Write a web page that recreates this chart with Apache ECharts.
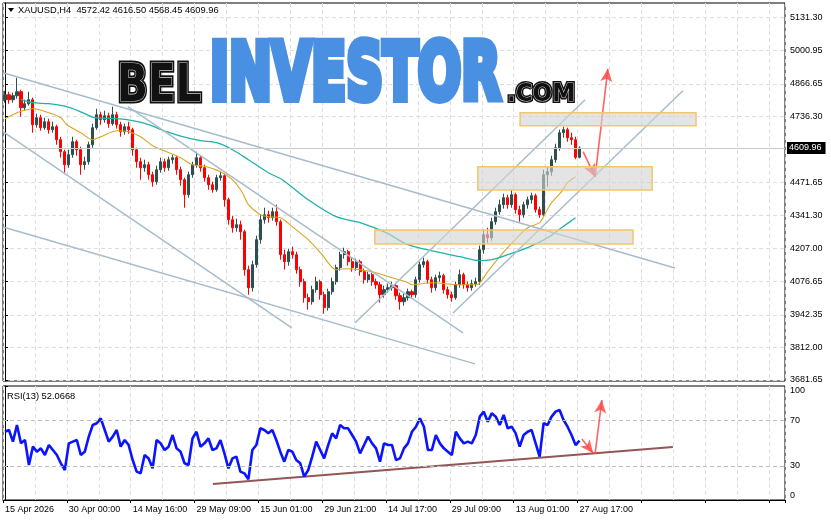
<!DOCTYPE html>
<html><head><meta charset="utf-8">
<script src="https://cdn.jsdelivr.net/npm/echarts@6/dist/echarts.min.js"></script>
<style>html,body{margin:0;padding:0;background:#fff}#c{width:831px;height:521px}</style>
</head><body><div id="c"></div>
<script>
const symbolName = 'XAUUSD,H4';
const lastBar = [4572.42, 4616.50, 4568.45, 4609.96]; // O H L C
const rsiName = 'RSI(13)';
const rsiLast = 52.0668;
const priceTicks = [5131.30, 5000.95, 4866.65, 4736.30, 4471.65, 4341.30, 4207.00, 4076.65, 3942.35, 3812.00, 3681.65];
const rsiTicks = [0, 30, 70, 100];
const rsiLevels = [30, 70];
const timeLabels = ['15 Apr 2026', '30 Apr 00:00', '14 May 16:00', '29 May 09:00', '15 Jun 01:00', '29 Jun 21:00', '14 Jul 17:00', '29 Jul 09:00', '13 Aug 01:00', '27 Aug 17:00'];
const labelEvery = 16;
const totalSlots = 196;

// candles: [open, close, low, high]
const candles = [
[4803,4823,4791,4839],[4823,4803,4787,4835],[4803,4819,4791,4831],[4819,4835,4807,4891],[4835,4771,4735,4843],
[4771,4787,4759,4803],[4787,4803,4779,4835],[4803,4703,4671,4811],[4703,4731,4691,4747],[4731,4691,4679,4743],
[4691,4715,4683,4731],[4715,4683,4667,4727],[4683,4695,4671,4715],[4695,4643,4623,4703],[4643,4595,4571,4655],
[4595,4543,4511,4603],[4543,4583,4531,4603],[4583,4635,4571,4655],[4635,4603,4579,4643],[4603,4543,4503,4615],
[4543,4555,4523,4575],[4555,4623,4543,4635],[4623,4691,4611,4707],[4691,4743,4683,4767],[4743,4723,4703,4755],
[4723,4739,4711,4759],[4739,4707,4691,4751],[4707,4743,4699,4775],[4743,4703,4687,4755],[4703,4675,4655,4715],
[4675,4695,4663,4707],[4695,4683,4667,4715],[4683,4603,4579,4691],[4603,4555,4531,4611],[4555,4531,4483,4571],
[4531,4543,4515,4563],[4543,4503,4483,4555],[4503,4475,4455,4515],[4475,4523,4463,4539],[4523,4555,4511,4571],
[4555,4531,4515,4567],[4531,4563,4519,4575],[4563,4571,4547,4583],[4571,4523,4503,4579],[4523,4483,4459,4535],
[4483,4423,4371,4491],[4423,4503,4411,4515],[4503,4543,4491,4555],[4543,4571,4531,4595],[4571,4531,4515,4579],
[4531,4491,4475,4543],[4491,4463,4443,4503],[4463,4443,4431,4475],[4443,4491,4435,4503],[4491,4499,4479,4515],
[4499,4403,4375,4507],[4403,4323,4303,4411],[4323,4291,4271,4339],[4291,4303,4275,4327],[4303,4275,4243,4319],
[4275,4123,4099,4283],[4123,4051,4023,4139],[4051,4143,4035,4159],[4143,4243,4131,4259],[4243,4323,4227,4343],
[4323,4343,4307,4371],[4343,4331,4311,4359],[4331,4355,4319,4371],[4355,4315,4299,4383],[4315,4183,4163,4323],
[4183,4155,4123,4203],[4155,4195,4139,4207],[4195,4183,4167,4215],[4183,4123,4107,4195],[4123,4075,4055,4135],
[4075,4011,3991,4087],[4011,3995,3963,4027],[3995,4043,3983,4059],[4043,4075,4031,4095],[4075,4023,4003,4083],
[4023,3971,3947,4035],[3971,4035,3959,4047],[4035,4075,4023,4091],[4075,4131,4063,4143],[4131,4183,4119,4195],
[4183,4195,4167,4211],[4195,4155,4139,4203],[4155,4131,4115,4171],[4131,4155,4119,4167],[4155,4115,4099,4163],
[4115,4083,4067,4127],[4083,4103,4071,4115],[4103,4075,4059,4111],[4075,4063,4047,4087],[4063,4023,3991,4075],
[4023,4043,4011,4059],[4043,4051,4031,4067],[4051,4059,4039,4075],[4059,4019,4003,4067],[4019,3995,3963,4031],
[3995,4011,3979,4027],[4011,4035,3999,4047],[4035,4023,4007,4043],[4023,4083,4011,4095],[4083,4143,4071,4155],
[4143,4155,4131,4171],[4155,4083,4067,4163],[4083,4051,4031,4095],[4051,4091,4039,4103],[4091,4099,4075,4115],
[4099,4043,4027,4107],[4043,4023,4007,4055],[4023,4011,3995,4035],[4011,4063,4003,4075],[4063,4103,4051,4123],
[4103,4063,4047,4111],[4063,4051,4035,4075],[4051,4067,4039,4083],[4067,4075,4055,4091],[4075,4203,4063,4219],
[4203,4263,4187,4283],[4263,4251,4231,4291],[4251,4315,4239,4331],[4315,4355,4303,4371],[4355,4383,4343,4403],
[4383,4411,4367,4427],[4411,4383,4367,4423],[4383,4423,4371,4443],[4423,4363,4347,4431],[4363,4343,4315,4379],
[4343,4383,4331,4395],[4383,4403,4367,4415],[4403,4419,4387,4431],[4419,4363,4351,4427],[4363,4343,4331,4375],
[4343,4503,4335,4523],[4503,4515,4455,4535],[4515,4563,4499,4579],[4563,4611,4551,4627],[4611,4671,4599,4683],
[4671,4683,4651,4695],[4683,4651,4635,4691],[4651,4643,4623,4671],[4643,4572.42,4565,4655],[4572.42,4609.96,4568.45,4616.50]
];

const rsiValues = [
59.9,61.4,51.2,65.8,49.7,52.6,30.7,46.8,42.4,45.3,
39.5,48.2,43.9,39.5,32.2,26.3,49.7,51.2,52.6,39.5,
42.4,55.6,65.8,67.3,71.6,61.4,51.2,55.6,61.4,46.8,
52.6,48.2,35.1,24.9,23.4,39.5,36.5,27.8,52.6,49.7,
43.9,46.8,57.0,45.3,42.4,32.2,30.7,54.1,59.9,46.8,
49.7,54.1,43.9,45.3,52.6,40.9,27.8,36.5,38.0,24.9,
23.4,18.1,43.9,48.2,62.9,61.4,58.5,61.4,52.6,42.4,
33.6,43.9,42.4,35.1,32.2,20.5,26.3,38.0,51.2,43.9,
36.5,48.2,58.5,54.1,65.8,62.9,62.9,57.0,51.2,40.9,
48.2,55.6,49.7,45.3,33.6,49.7,48.2,48.2,35.1,36.5,
45.3,49.7,59.9,64.3,71.6,64.3,43.9,43.9,57.0,49.7,
45.3,42.4,39.5,59.9,54.1,49.7,51.2,49.7,57.0,73.1,
77.5,68.7,76.0,73.1,65.8,74.6,62.9,64.3,58.5,46.8,
57.0,59.9,61.4,49.7,38.0,67.3,65.8,73.1,77.5,78.9,
70.2,64.3,57.0,48.2,52.0668
];

// moving averages read at bar positions: [barIndex, price]
const maFast = [[0,4727],[3,4751],[5.5,4763],[7,4767],[11,4751],[14,4731],[15.5,4703],[19,4671],[22,4643],[24,4655],[28,4679],[31,4675],[34,4655],[37,4619],[40.5,4595],[44,4571],[47,4543],[50.5,4535],[54,4515],[57,4483],[59.5,4431],[61,4383],[64,4343],[66,4335],[69,4331],[72,4295],[76,4243],[79.5,4183],[83,4123],[85.5,4127],[89,4123],[93,4111],[97,4091],[100.5,4075],[102,4063],[107,4071],[114,4063],[118,4063],[119,4070],[121,4115],[124.8,4190],[128.3,4250],[131,4291],[134,4311],[135.5,4351],[137,4391],[139.5,4435],[141,4471],[143,4495]];
const maSlow = [[4,4803],[7,4791],[11,4787],[15.5,4775],[19.5,4751],[22.5,4731],[28,4727],[32,4719],[36,4703],[40.5,4675],[44.5,4655],[49,4639],[53,4631],[57,4603],[61,4563],[66,4511],[69.5,4483],[76,4403],[83,4335],[89,4311],[95.5,4271],[101,4223],[108,4195],[114,4175],[119,4159],[122,4163],[126,4183],[131,4211],[136,4251],[139.5,4291],[143,4331]];

const trendLines = [
  [[-0.5,4911],[167.9,4130]],
  [[30.8,4775],[114.8,3870]],
  [[-0.5,4675],[71.9,3890]],
  [[-0.5,4294],[117.8,3746]],
  [[87.7,3910],[145.4,4803]],
  [[112.3,3950],[169.9,4839]]
];
const zones = [[129.1,4751,173.2,4699],[118.5,4535,162.2,4442],[92.7,4282,157.4,4226]];
const priceArrows = [[[144.9,4595],[147.9,4494]],[[147.9,4494],[151.1,4927]]];
const rsiTrend = [[52.1,14.0],[167.4,46.5]];
const rsiArrows = [[[144.6,53.5],[147.4,41.2]],[[147.9,40.4],[149.6,87.7]]];

const categories = Array.from({length: totalSlots}, (_, i) => i % labelEvery === 0 ? (timeLabels[i / labelEvery] || '') : '');
const FONT = 'Liberation Sans';
const gridLine = {color: '#dedede', type: [4, 3], width: 1};

const chart = echarts.init(document.getElementById('c'), null, {renderer: 'canvas'});

function logoText(txt, x, cy, size, sx, extra) {
  return {
    type: 'text', x: x, y: cy, scaleX: sx, z: 100, silent: true,
    style: Object.assign({
      text: txt, x: 0, y: 0, font: 'bold ' + size + 'px "DejaVu Sans"',
      textAlign: 'left', textVerticalAlign: 'middle', align: 'left', verticalAlign: 'middle'
    }, extra)
  };
}
const shadow = {shadowBlur: 4, shadowColor: 'rgba(0,0,0,0.35)', shadowOffsetX: 1, shadowOffsetY: 2};

const series = [
  {
    type: 'candlestick', xAxisIndex: 0, yAxisIndex: 0, data: candles, barWidth: 2.6, z: 2,
    itemStyle: {color: '#2F4F4F', color0: '#FF0000', borderColor: '#2F4F4F', borderColor0: '#FF0000', borderWidth: 1},
    markLine: {
      silent: true, symbol: 'none', animation: false,
      lineStyle: {color: '#c8c8c8', type: 'solid', width: 1},
      label: {show: true, position: 'end', distance: 2, formatter: p => p.value.toFixed(2), color: '#fff', backgroundColor: '#000', padding: [2, 4, 1, 2], fontSize: 9, fontFamily: FONT},
      data: [{yAxis: lastBar[3]}]
    }
  },
  {type: 'line', xAxisIndex: 2, yAxisIndex: 0, data: maFast, smooth: 0.3, showSymbol: false, z: 3, lineStyle: {color: '#DAA520', width: 1.1}},
  {type: 'line', xAxisIndex: 2, yAxisIndex: 0, data: maSlow, smooth: 0.3, showSymbol: false, z: 3, lineStyle: {color: '#20B2AA', width: 1.3}}
];
trendLines.forEach(seg => series.push({type: 'line', xAxisIndex: 2, yAxisIndex: 0, data: seg, showSymbol: false, z: 4, lineStyle: {color: '#a7bccb', width: 1.5}}));
series.push({
  type: 'custom', xAxisIndex: 2, yAxisIndex: 0, z: 5, data: zones, encode: {x: [0, 2], y: [1, 3]},
  renderItem: (params, api) => {
    const a = api.coord([api.value(0), api.value(1)]);
    const b = api.coord([api.value(2), api.value(3)]);
    return {type: 'rect', shape: {x: Math.min(a[0], b[0]), y: Math.min(a[1], b[1]), width: Math.abs(b[0] - a[0]), height: Math.abs(b[1] - a[1])},
      style: {fill: 'rgba(212,212,212,0.62)', stroke: '#F3C56E', lineWidth: 1.5}};
  }
});
series.push({
  type: 'line', xAxisIndex: 2, yAxisIndex: 0, data: [], z: 6,
  markLine: {silent: true, animation: false, symbol: ['none', 'arrow'], symbolSize: [9, 13], label: {show: false},
    lineStyle: {color: '#FF4848', width: 1.6, type: 'solid', opacity: 0.85},
    data: priceArrows.map(a => [{coord: a[0]}, {coord: a[1]}])}
});
// RSI panel
series.push({
  type: 'line', xAxisIndex: 3, yAxisIndex: 1, data: [], z: 1,
  markLine: {silent: true, animation: false, symbol: 'none', label: {show: false}, lineStyle: {color: '#bdbdbd', type: [4, 3], width: 1},
    data: rsiLevels.map(v => ({yAxis: v}))}
});
series.push({type: 'line', xAxisIndex: 3, yAxisIndex: 1, data: rsiTrend, showSymbol: false, z: 3, lineStyle: {color: '#935656', width: 2}});
series.push({type: 'line', xAxisIndex: 1, yAxisIndex: 1, data: rsiValues, showSymbol: false, z: 4, lineStyle: {color: '#0A14FF', width: 2.6}});
series.push({
  type: 'line', xAxisIndex: 3, yAxisIndex: 1, data: [], z: 6,
  markLine: {silent: true, animation: false, symbol: ['none', 'arrow'], symbolSize: [9, 13], label: {show: false},
    lineStyle: {color: '#FF4848', width: 1.6, type: 'solid', opacity: 0.85},
    data: rsiArrows.map(a => [{coord: a[0]}, {coord: a[1]}])}
});

const option = {
  animation: false,
  backgroundColor: '#fff',
  grid: [
    {left: 3, top: 3, width: 782, height: 378, show: true, borderColor: '#000', borderWidth: 1, backgroundColor: 'transparent'},
    {left: 3, top: 386, width: 782, height: 114, show: true, borderColor: '#000', borderWidth: 1, backgroundColor: 'transparent'}
  ],
  xAxis: [
    {type: 'category', gridIndex: 0, data: categories, boundaryGap: true, axisLine: {show: false}, axisTick: {show: false}, axisLabel: {show: false},
      splitLine: {show: true, interval: 7, lineStyle: gridLine}},
    {type: 'category', gridIndex: 1, data: categories, boundaryGap: true,
      axisLine: {show: true, lineStyle: {color: '#000'}},
      axisTick: {show: true, interval: labelEvery - 1, length: 3, lineStyle: {color: '#000'}},
      axisLabel: {show: true, interval: labelEvery - 1, align: 'left', margin: 5, fontSize: 9, color: '#000', fontFamily: FONT, hideOverlap: false},
      splitLine: {show: true, interval: 7, lineStyle: gridLine}},
    {type: 'value', gridIndex: 0, min: -0.5, max: totalSlots - 0.5, show: false},
    {type: 'value', gridIndex: 1, min: -0.5, max: totalSlots - 0.5, show: false}
  ],
  yAxis: [
    {type: 'value', gridIndex: 0, position: 'right', min: 3677.6, max: 5190, scale: true,
      axisLine: {show: true, lineStyle: {color: '#000'}},
      axisTick: {show: true, length: 3, customValues: priceTicks, lineStyle: {color: '#000'}},
      axisLabel: {customValues: priceTicks, formatter: v => Number(v).toFixed(2), fontSize: 9, margin: 5, color: '#000', fontFamily: FONT},
      splitLine: {show: true, lineStyle: gridLine}},
    {type: 'value', gridIndex: 1, position: 'right', min: 0, max: 100,
      axisLine: {show: true, lineStyle: {color: '#000'}},
      axisTick: {show: true, length: 3, customValues: rsiTicks, lineStyle: {color: '#000'}},
      axisLabel: {customValues: rsiTicks, fontSize: 9, margin: 5, color: '#000', fontFamily: FONT, verticalAlignMaxLabel: 'top', verticalAlignMinLabel: 'bottom'},
      splitLine: {show: false}}
  ],
  graphic: [
    {type: 'polygon', z: 50, silent: true, shape: {points: [[8, 8], [14, 8], [11, 12]]}, style: {fill: '#000'}},
    {type: 'text', x: 18, y: 10, z: 50, silent: true, style: {text: symbolName + '  ' + lastBar.map(v => v.toFixed(2)).join(' '), font: '9.3px "' + FONT + '"', fill: '#000', textVerticalAlign: 'middle', verticalAlign: 'middle'}},
    {type: 'text', x: 7, y: 396, z: 50, silent: true, style: {text: rsiName + ' ' + rsiLast.toFixed(4), font: '9.3px "' + FONT + '"', fill: '#000', textVerticalAlign: 'middle', verticalAlign: 'middle'}},
    logoText('INVESTOR', 210, 78.5, 78, 0.655, Object.assign({fill: '#4A90E2', stroke: '#4A90E2', lineWidth: 8, lineJoin: 'round'}, shadow)),
    logoText('BEL', 117, 87, 52, 0.78, Object.assign({fill: '#111', stroke: '#111', lineWidth: 5, lineJoin: 'round'}, shadow)),
    logoText('BEL', 117, 87, 52, 0.78, {fill: '#111', stroke: '#d8d8d8', lineWidth: 1.2}),
    logoText('.COM', 507, 94, 25, 0.92, Object.assign({fill: '#111', stroke: '#111', lineWidth: 4, lineJoin: 'round'}, shadow)),
    logoText('.COM', 507, 94, 25, 0.92, {fill: '#111', stroke: '#d8d8d8', lineWidth: 1})
  ],
  series: series
};
chart.setOption(option);
</script>
</body></html>
